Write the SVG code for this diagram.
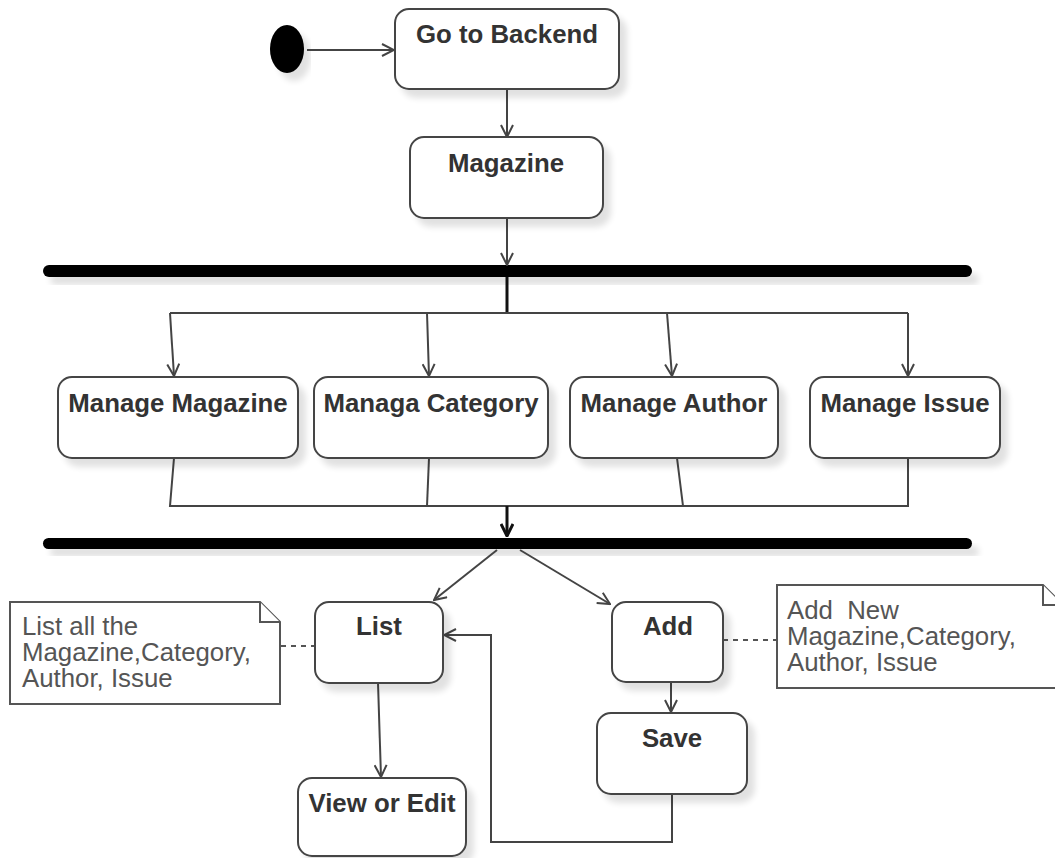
<svg xmlns="http://www.w3.org/2000/svg" width="1055" height="858" viewBox="0 0 1055 858">
  <defs>
    <style>
      .act { fill: #fff; stroke: #444; stroke-width: 2; }
      .note { fill: #fff; stroke: #555; stroke-width: 2; }
      .lbl { font-family: "Liberation Sans", Arial, sans-serif; font-weight: bold; font-size: 25.8px; fill: #333; text-anchor: middle; }
      .ntxt { font-family: "Liberation Sans", Arial, sans-serif; font-size: 25.8px; fill: #555; }
      .flow { fill: none; stroke: #444; stroke-width: 2; }
      .heavy { fill: none; stroke: #111; stroke-width: 3; }
      .bar { fill: #000; }
      .dash { fill: none; stroke: #555; stroke-width: 2; stroke-dasharray: 5 5; }
    </style>
    <marker id="open" viewBox="0 0 14 14" refX="13" refY="7" markerWidth="14" markerHeight="14" markerUnits="userSpaceOnUse" orient="auto">
      <path d="M1,1 L13,7 L1,13" fill="none" stroke="#444" stroke-width="2"/>
    </marker>
    <marker id="openBold" viewBox="0 0 14 14" refX="13" refY="7" markerWidth="14" markerHeight="14" markerUnits="userSpaceOnUse" orient="auto">
      <path d="M1,1 L13,7 L1,13" fill="none" stroke="#111" stroke-width="3"/>
    </marker>
    <filter id="shadow" x="-10%" y="-20%" width="130%" height="180%">
      <feGaussianBlur in="SourceAlpha" stdDeviation="3"/>
      <feOffset dx="7" dy="8" result="b"/>
      <feComponentTransfer><feFuncA type="linear" slope="0.12"/></feComponentTransfer>
      <feMerge><feMergeNode/><feMergeNode in="SourceGraphic"/></feMerge>
    </filter>
  </defs>

  <rect width="1055" height="858" fill="#fff"/>

  <!-- start / fork / join -->
  <g id="start"><ellipse cx="287" cy="49" rx="17" ry="24" fill="#000" filter="url(#shadow)"/></g>
  <g id="fork"><rect class="bar" x="43" y="265" width="929" height="12" rx="6" filter="url(#shadow)"/></g>
  <g id="join"><rect class="bar" x="43" y="538" width="929" height="11" rx="5.5" filter="url(#shadow)"/></g>

  <!-- connectors -->
  <g id="connectors">
    <line class="flow" x1="307" y1="50" x2="394" y2="50" marker-end="url(#open)"/>
    <line class="flow" x1="507" y1="89" x2="507" y2="137" marker-end="url(#open)"/>
    <line class="flow" x1="507" y1="218" x2="507" y2="265" marker-end="url(#open)"/>
    <polyline class="heavy" points="507,277 507,313"/>
    <polyline class="flow" points="170,313 908,313"/>
    <line class="flow" x1="170" y1="313" x2="174" y2="376" marker-end="url(#open)"/>
    <line class="flow" x1="427" y1="313" x2="429" y2="376" marker-end="url(#open)"/>
    <line class="flow" x1="667" y1="313" x2="672" y2="376" marker-end="url(#open)"/>
    <line class="flow" x1="908" y1="313" x2="908" y2="376" marker-end="url(#open)"/>
    <polyline class="flow" points="174,458 170,506 908,506 908,458"/>
    <line class="flow" x1="429" y1="458" x2="427" y2="506"/>
    <line class="flow" x1="677" y1="458" x2="683" y2="506"/>
    <line class="heavy" x1="507" y1="506" x2="507" y2="536" marker-end="url(#openBold)"/>
    <line class="flow" x1="497" y1="550" x2="434" y2="600" marker-end="url(#open)"/>
    <line class="flow" x1="520" y1="550" x2="610" y2="604" marker-end="url(#open)"/>
    <line class="flow" x1="378" y1="683" x2="381" y2="777" marker-end="url(#open)"/>
    <line class="flow" x1="671" y1="682" x2="671" y2="712" marker-end="url(#open)"/>
    <polyline class="flow" points="672,795 672,842 491,842 491,635 444,635" marker-end="url(#open)"/>
    <line class="dash" x1="281" y1="646" x2="315" y2="646"/>
    <line class="dash" x1="723" y1="640" x2="777" y2="640"/>
  </g>

  <!-- actions -->
  <g id="go-to-backend">
    <rect class="act" x="395" y="9" width="224" height="80" rx="14" filter="url(#shadow)"/>
    <text class="lbl" x="507" y="43">Go to Backend</text>
  </g>
  <g id="magazine">
    <rect class="act" x="410" y="137" width="193" height="81" rx="14" filter="url(#shadow)"/>
    <text class="lbl" x="506" y="172">Magazine</text>
  </g>
  <g id="manage-magazine">
    <rect class="act" x="58" y="377" width="240" height="81" rx="14" filter="url(#shadow)"/>
    <text class="lbl" x="178" y="412">Manage Magazine</text>
  </g>
  <g id="managa-category">
    <rect class="act" x="314" y="377" width="234" height="81" rx="14" filter="url(#shadow)"/>
    <text class="lbl" x="431" y="412">Managa Category</text>
  </g>
  <g id="manage-author">
    <rect class="act" x="570" y="377" width="208" height="81" rx="14" filter="url(#shadow)"/>
    <text class="lbl" x="674" y="412">Manage Author</text>
  </g>
  <g id="manage-issue">
    <rect class="act" x="810" y="377" width="190" height="81" rx="14" filter="url(#shadow)"/>
    <text class="lbl" x="905" y="412">Manage Issue</text>
  </g>
  <g id="list">
    <rect class="act" x="315" y="602" width="128" height="81" rx="14" filter="url(#shadow)"/>
    <text class="lbl" x="379" y="635">List</text>
  </g>
  <g id="add">
    <rect class="act" x="612" y="602" width="111" height="80" rx="14" filter="url(#shadow)"/>
    <text class="lbl" x="668" y="635">Add</text>
  </g>
  <g id="save">
    <rect class="act" x="597" y="713" width="150" height="81" rx="14" filter="url(#shadow)"/>
    <text class="lbl" x="672" y="747">Save</text>
  </g>
  <g id="view-or-edit">
    <rect class="act" x="298" y="778" width="168" height="78" rx="14" filter="url(#shadow)"/>
    <text class="lbl" x="382" y="812">View or Edit</text>
  </g>

  <!-- notes -->
  <g id="note-list">
    <path class="note" d="M10,602 H260 L280,622 V704 H10 Z"/>
    <path class="note" d="M260,602 V622 H280"/>
    <text class="ntxt" x="22" y="635">List all the</text>
    <text class="ntxt" x="22" y="661">Magazine,Category,</text>
    <text class="ntxt" x="22" y="687">Author, Issue</text>
  </g>
  <g id="note-add">
    <path class="note" d="M777,585 H1043 L1063,605 V688 H777 Z"/>
    <path class="note" d="M1043,585 V605 H1063"/>
    <text class="ntxt" x="787" y="619" xml:space="preserve">Add  New</text>
    <text class="ntxt" x="787" y="645">Magazine,Category,</text>
    <text class="ntxt" x="787" y="671">Author, Issue</text>
  </g>
</svg>
